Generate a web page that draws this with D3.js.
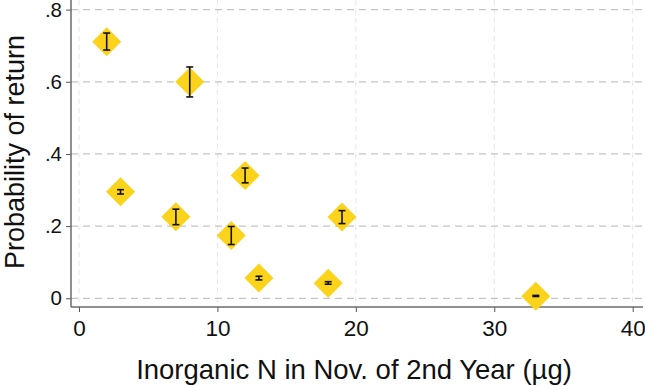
<!DOCTYPE html>
<html>
<head>
<meta charset="utf-8">
<script src="https://cdn.jsdelivr.net/npm/d3@7"></script>
<style>
body{margin:0;background:#fff;}
text{font-family:"Liberation Sans",Arial,sans-serif;fill:#111;}
</style>
</head>
<body>
<svg id="chart" width="645" height="386"></svg>
<script>
// values
const nitrogen = [2, 8, 3, 7, 11, 12, 13, 18, 19, 33];
const prob     = [0.711, 0.600, 0.295, 0.226, 0.174, 0.340, 0.056, 0.042, 0.225, 0.006];
const lower    = [0.688, 0.558, 0.289, 0.204, 0.149, 0.320, 0.051, 0.039, 0.207, 0.005];
const upper    = [0.735, 0.641, 0.301, 0.247, 0.199, 0.361, 0.061, 0.046, 0.243, 0.008];
const xTicks = [0, 10, 20, 30, 40];
const yTicks = [0, 0.2, 0.4, 0.6, 0.8];
const yLabels = ['0', '.2', '.4', '.6', '.8'];

let svg = d3.select('#chart');
let pLeft = 71, pRight = 643, pTop = 0, pBottom = 307;

let x = d3.scaleLinear().domain([0, 40]).range([79, 632.7]);
let y = d3.scaleLinear().domain([0, 0.8]).range([298.3, 9.6]);

// grid
svg.append('g').selectAll('line').data(xTicks).enter().append('line')
    .attr('x1', d=>x(d)).attr('x2', d=>x(d)).attr('y1', pTop).attr('y2', pBottom)
    .attr('stroke', '#e6e6e6').attr('stroke-width', 1).attr('stroke-dasharray', '5,4');
svg.append('g').selectAll('line').data(yTicks).enter().append('line')
    .attr('x1', pLeft).attr('x2', pRight).attr('y1', d=>y(d)).attr('y2', d=>y(d))
    .attr('stroke', '#c4c4c4').attr('stroke-width', 1.2).attr('stroke-dasharray', '7,5');

// axes
let xAxis = svg.append('g').attr('transform', `translate(0,${pBottom})`)
    .call(d3.axisBottom(x).tickValues(xTicks).tickSize(5).tickPadding(8));
let yAxis = svg.append('g').attr('transform', `translate(${pLeft},0)`)
    .call(d3.axisLeft(y).tickValues(yTicks).tickFormat((d,i)=>yLabels[i]).tickSize(5).tickPadding(4));
[xAxis, yAxis].forEach(a=>{
    a.select('.domain').remove();
    a.selectAll('.tick line').attr('stroke', '#555');
    a.selectAll('.tick text').attr('font-family', '"Liberation Sans",Arial,sans-serif').attr('fill', '#111');
});
xAxis.selectAll('.tick text').attr('font-size', 22.5);
yAxis.selectAll('.tick text').attr('font-size', 20.5);
// keep the top label inside the frame
yAxis.selectAll('.tick text').filter(d=>d===0.8).attr('dy', '0.36em');
svg.append('line').attr('x1', pLeft).attr('x2', pLeft).attr('y1', pTop).attr('y2', pBottom)
    .attr('stroke', '#6b6b6b').attr('stroke-width', 1.5);
svg.append('line').attr('x1', pLeft).attr('x2', pRight).attr('y1', pBottom).attr('y2', pBottom)
    .attr('stroke', '#6b6b6b').attr('stroke-width', 1.5);

// points
let data = nitrogen.map((n,i)=>({n:n, p:prob[i], lo:lower[i], hi:upper[i]}));
let pts = svg.append('g').selectAll('g').data(data).enter().append('g');
pts.append('path')
    .attr('d', d=>{let cx=x(d.n), cy=y(d.p), r=14.5;
        return `M${cx},${cy-r}L${cx+r},${cy}L${cx},${cy+r}L${cx-r},${cy}Z`;})
    .attr('fill', '#fbd31b');
pts.append('line')
    .attr('x1', d=>x(d.n)).attr('x2', d=>x(d.n))
    .attr('y1', d=>y(d.lo)).attr('y2', d=>y(d.hi))
    .attr('stroke', '#111').attr('stroke-width', 1.6);
['lo','hi'].forEach(k=>{
    pts.append('line')
        .attr('x1', d=>x(d.n)-3.5).attr('x2', d=>x(d.n)+3.5)
        .attr('y1', d=>y(d[k])).attr('y2', d=>y(d[k]))
        .attr('stroke', '#111').attr('stroke-width', 1.6);
});

// titles
svg.append('text').attr('x', 354).attr('y', 379).attr('text-anchor', 'middle')
    .attr('font-size', 27.5).text('Inorganic N in Nov. of 2nd Year (µg)');
svg.append('text').attr('transform', 'translate(24,152) rotate(-90)').attr('text-anchor', 'middle')
    .attr('font-size', 27).text('Probability of return');
</script>
</body>
</html>
